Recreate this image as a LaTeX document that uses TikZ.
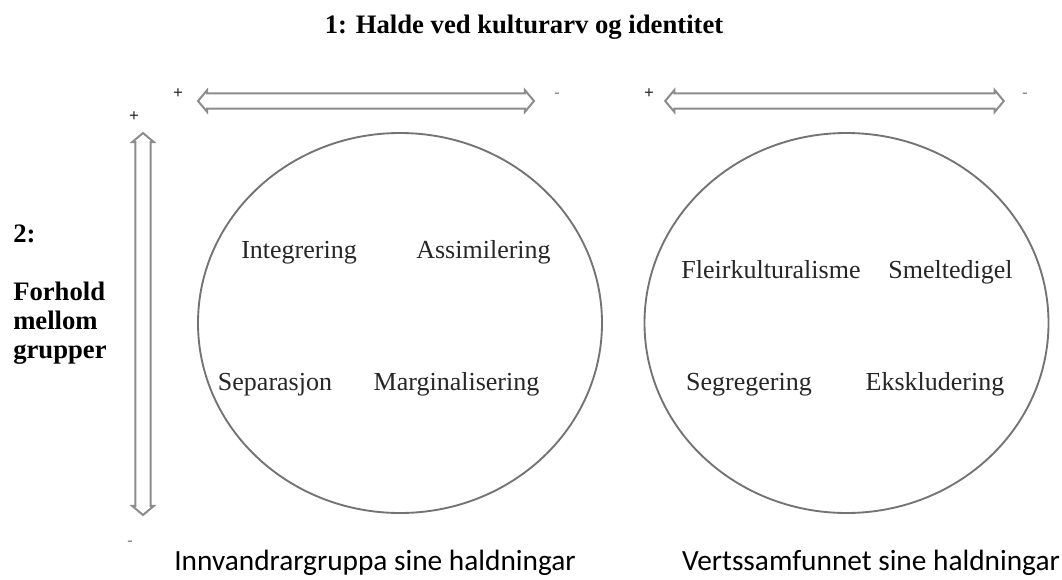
\documentclass[tikz,border=0pt]{standalone}
\usepackage{fontspec}
\setmainfont{Liberation Serif}
\newfontfamily\calibri{Carlito}
\usetikzlibrary{shapes.geometric,shapes.arrows,positioning}

\begin{document}
\begin{tikzpicture}[x=0.75pt,y=-0.75pt,
		every node/.style={inner sep=0pt},
		ring/.style={ellipse,draw=black!55,line width=1.4pt,minimum width=303pt,minimum height=285pt},
		axis/.style={double arrow,draw=black!45,fill=white,line width=1.5pt,inner sep=5pt,
			double arrow head extend=2.5pt,double arrow tip angle=100},
		head/.style={font=\bfseries\fontsize{20}{21.75}\selectfont},
		strat/.style={anchor=base,font=\fontsize{19.5}{22}\selectfont,text=black!85},
		sign/.style={font=\bfseries\fontsize{13}{14}\selectfont,text=black!85},
		minus/.style={font=\fontsize{12}{14}\selectfont,text=black!55},
		caption/.style={anchor=base,font=\calibri\fontsize{22}{26}\selectfont}]
		\useasboundingbox (0,0) rectangle (1062,579);
		
		\node[head,anchor=base] (Titel) at (524,33) {1: Halde ved kulturarv og identitet};
		
		\node[axis,minimum height=252pt] (AxInn) at (366,101) {};
		\node[axis,minimum height=254pt] (AxVert) at (834.5,101) {};
		\node[axis,minimum height=286.5pt,rotate=90] (AxGr) at (143,324) {};
		
		\node[sign] (PlusInn) at (178,94) {+};
		\node[minus] (MinusInn) at (557,95) {-};
		\node[sign] (PlusVert) at (649,94) {+};
		\node[minus] (MinusVert) at (1025,95) {-};
		\node[sign] (PlusGr) at (134,117) {+};
		\node[minus] (MinusGr) at (130,543) {-};
		
		\node[head,anchor=base west] (Nr2) at (13,242) {2:};
		\node[head,anchor=base west,align=left] (Forhold) at (13,358) {Forhold\\mellom\\grupper};
		
		\node[ring] (Inn) at (400,323) {};
		\node[ring] (Vert) at (846.5,323) {};
		
		\node[strat] (Integ) at (299,258) {Integrering};
		\node[strat] (Assim) at (483.5,258) {Assimilering};
		\node[strat] (Separ) at (275,390) {Separasjon};
		\node[strat] (Margin) at (456.5,390) {Marginalisering};
		\node[strat] (Fleir) at (771,278) {Fleirkulturalisme};
		\node[strat] (Smelt) at (950.5,278) {Smeltedigel};
		\node[strat] (Segreg) at (749,390) {Segregering};
		\node[strat] (Ekskl) at (935,390) {Ekskludering};
		
		\node[caption] (CapInn) at (375,570) {Innvandrargruppa sine haldningar};
		\node[caption] (CapVert) at (871,570) {Vertssamfunnet sine haldningar};
	\end{tikzpicture}
\end{document}
